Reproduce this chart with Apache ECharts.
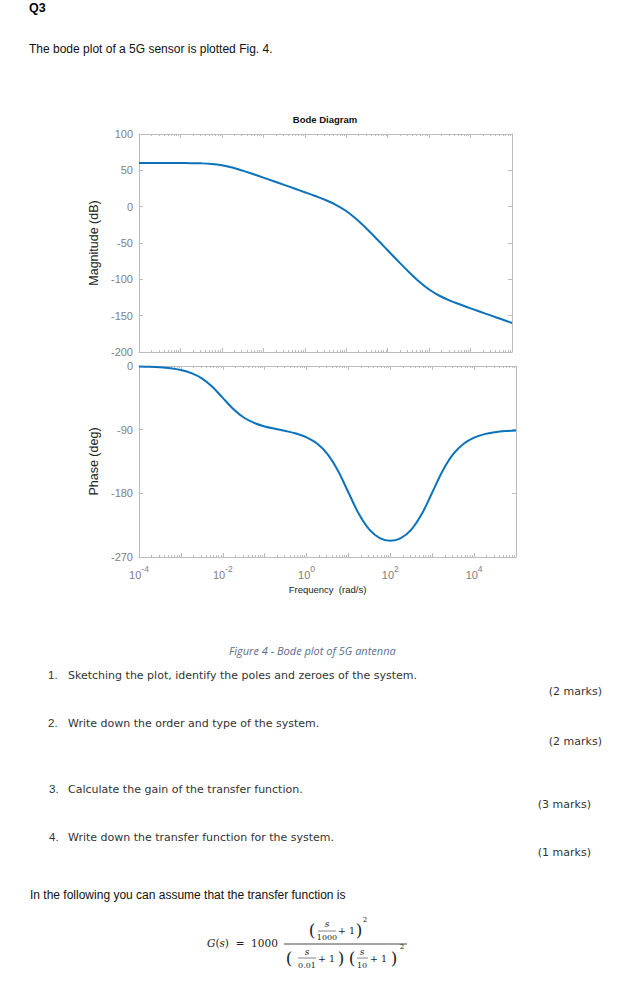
<!DOCTYPE html>
<html><head><meta charset="utf-8">
<script src="https://cdn.jsdelivr.net/npm/echarts@6/dist/echarts.min.js"></script>
<style>html,body{margin:0;padding:0;background:#fff;} #c{width:629px;height:987px;}</style>
</head><body><div id="c"></div>
<script>
// ---- data ----
const logFreq = [-4,-3.75,-3.5,-3.25,-3,-2.75,-2.5,-2.25,-2,-1.75,-1.5,-1.25,-1,-0.75,-0.5,-0.25,0,0.25,0.5,0.75,1,1.25,1.5,1.75,2,2.25,2.5,2.75,3,3.25,3.5,3.75,4,4.25,4.5,4.75,5];
const magnitudeDb = [60,60,60,60,60,59.9,59.6,58.8,57,53.8,49.6,44.9,40,35,30,25,19.9,14.7,9.2,2.6,-6,-17.4,-30.8,-45.2,-60,-74.8,-89.2,-102.6,-114,-122.6,-129.2,-134.7,-140,-145,-150,-155,-160];
const phaseDeg = [-0.6,-1,-1.8,-3.2,-5.7,-10.1,-17.5,-29.4,-45.1,-60.8,-72.8,-80.5,-85.4,-88.8,-91.8,-95.4,-100.8,-109.6,-124.5,-148,-178.8,-209.3,-231.3,-243.4,-247.2,-243.4,-231.3,-209.3,-178.9,-148,-124.7,-110,-101.3,-96.3,-93.6,-92,-91.1];
const xLabelExps = [-4,-2,0,2,4];
const magTicks = {min:-200, max:100, interval:50};
const phaseTicks = {min:-270, max:0, interval:90};
const freqRange = {min:1e-4, max:1e5};

const freq = logFreq.map(e => Math.pow(10, e));
const magData = freq.map((f,i) => [f, magnitudeDb[i]]);
const phaseData = freq.map((f,i) => [f, phaseDeg[i]]);
const decadeTicks = []; for (let e=-4;e<=5;e++) decadeTicks.push(Math.pow(10,e));
const minorTicks = []; for (let e=-4;e<5;e++) for (let m=2;m<=9;m++) minorTicks.push(m*Math.pow(10,e));
const xLabelVals = xLabelExps.map(e => Math.pow(10,e));

const boxColor = '#bdbdbd';
const tickLabelColor = '#808080';
const lineColor = '#0b72bb';

function xAx(grid, pos, ticks, len, showLine, labels) {
  return {
    type:'log', logBase:10, gridIndex:grid, position:pos, min:freqRange.min, max:freqRange.max,
    axisLine:{show:showLine, onZero:false, lineStyle:{color:boxColor, width:1}},
    axisTick:{show:true, inside:true, length:len, customValues:ticks, lineStyle:{color:boxColor}},
    axisLabel: labels ? {
      show:true, customValues:xLabelVals, margin:7, color:tickLabelColor,
      formatter: v => '{b|10}{s|' + Math.round(Math.log10(v)) + '}',
      rich:{ b:{fontSize:11, fontFamily:'Liberation Sans, Arial', color:tickLabelColor, lineHeight:16, verticalAlign:'bottom'},
             s:{fontSize:8.5, fontFamily:'Liberation Sans, Arial', color:tickLabelColor, lineHeight:16, verticalAlign:'top'} }
    } : {show:false},
    splitLine:{show:false}, minorTick:{show:false}
  };
}
function yAx(grid, pos, t, name, labels) {
  return {
    type:'value', gridIndex:grid, position:pos, min:t.min, max:t.max, interval:t.interval,
    axisLine:{show:true, onZero:false, lineStyle:{color:boxColor, width:1}},
    axisTick:{show:true, inside:true, length:4, lineStyle:{color:boxColor}},
    axisLabel:{show:labels, margin:6, color:tickLabelColor, fontSize:11, fontFamily:'Liberation Sans, Arial'},
    splitLine:{show:false},
    name: name || '', nameLocation:'middle', nameRotate:90, nameGap:34,
    nameTextStyle:{fontSize:12.5, color:'#222', fontFamily:'Liberation Sans, Arial'}
  };
}

const xAxes = [
  xAx(0,'bottom',decadeTicks,4,true,false),
  xAx(0,'bottom',minorTicks,2,false,false),
  xAx(0,'top',decadeTicks,4,true,false),
  xAx(0,'top',minorTicks,2,false,false),
  Object.assign(xAx(1,'bottom',decadeTicks,4,true,true), {name:'Frequency  (rad/s)', nameLocation:'middle', nameGap:27, nameTextStyle:{fontSize:9.5, color:'#222', fontFamily:'Liberation Sans, Arial'}}),
  xAx(1,'bottom',minorTicks,2,false,false),
  xAx(1,'top',decadeTicks,4,true,false),
  xAx(1,'top',minorTicks,2,false,false)
];
const yAxes = [
  yAx(0,'left',magTicks,'Magnitude (dB)',true),
  yAx(0,'right',magTicks,'',false),
  yAx(1,'left',phaseTicks,'Phase (deg)',true),
  yAx(1,'right',phaseTicks,'',false)
];

const TF = 'Liberation Sans, Arial, sans-serif';
const QF = 'DejaVu Sans, Verdana, sans-serif';
const MF = 'DejaVu Serif, serif';
function txt(x,y,text,font,size,opts) {
  opts = opts || {};
  return {type:'text', x:x, y:y, silent:true, style:Object.assign({text:text, fontFamily:font, fontSize:size, fill:opts.fill||'#222', align:opts.align||'left', verticalAlign:'middle', fontWeight:opts.weight||'normal', fontStyle:opts.style||'normal'}, opts.extra||{})};
}
function hline(x1,x2,y,w) {
  return {type:'line', silent:true, shape:{x1:x1,y1:y,x2:x2,y2:y}, style:{stroke:'#333', lineWidth:w||0.8}};
}

const graphics = [
  txt(29,8,'Q3',TF,12.5,{weight:'bold',fill:'#000'}),
  txt(29,49,'The bode plot of a 5G sensor is plotted Fig. 4.',TF,12,{fill:'#111'}),
  txt(325,119,'Bode Diagram',TF,9.5,{weight:'bold',align:'center',fill:'#111'}),
  txt(229,650,'Figure 4 - Bode plot of 5G antenna','Open Sans, DejaVu Sans, sans-serif',11,{style:'italic',fill:'#5a7090'}),
  txt(48,675,'1.',TF,11.5,{fill:'#333'}),
  txt(68,675,'Sketching the plot, identify the poles and zeroes of the system.',QF,11,{fill:'#333'}),
  txt(602,691,'(2 marks)',QF,11,{align:'right',fill:'#333'}),
  txt(48,723,'2.',TF,11.5,{fill:'#333'}),
  txt(68,723,'Write down the order and type of the system.',QF,11,{fill:'#333'}),
  txt(602,741,'(2 marks)',QF,11,{align:'right',fill:'#333'}),
  txt(49,789,'3.',TF,11.5,{fill:'#333'}),
  txt(68,789,'Calculate the gain of the transfer function.',QF,11,{fill:'#333'}),
  txt(591,804,'(3 marks)',QF,11,{align:'right',fill:'#333'}),
  txt(49,837,'4.',TF,11.5,{fill:'#333'}),
  txt(68,837,'Write down the transfer function for the system.',QF,11,{fill:'#333'}),
  txt(591,852,'(1 marks)',QF,11,{align:'right',fill:'#333'}),
  txt(30,895,'In the following you can assume that the transfer function is',TF,12,{fill:'#111'}),
  // formula
  {type:'text', x:207, y:943, silent:true, style:{text:'{i|G}{n|(}{i|s}{n|)  =  1000}', verticalAlign:'middle', fill:'#222',
    rich:{i:{fontFamily:MF, fontSize:10.5, fontStyle:'italic', fill:'#222'}, n:{fontFamily:MF, fontSize:10.5, fill:'#222'}}}},
  hline(284,407,944,0.9),
  txt(312,930,'(',MF,17,{align:'center'}),
  txt(327,924,'s',MF,9,{align:'center',style:'italic'}),
  hline(318,336,931,0.6),
  txt(327,937.5,'1000',MF,8,{align:'center'}),
  txt(338,930,'+ 1',MF,9.5,{}),
  txt(359,930,')',MF,17,{align:'center'}),
  txt(365,920,'2',MF,7,{align:'center'}),
  txt(289,958,'(',MF,17,{align:'center'}),
  txt(307,952,'s',MF,9,{align:'center',style:'italic'}),
  hline(298,316,958,0.6),
  txt(307,965,'0.01',MF,8,{align:'center'}),
  txt(318,958,'+ 1',MF,9.5,{}),
  txt(341,958,')',MF,17,{align:'center'}),
  txt(352,958,'(',MF,17,{align:'center'}),
  txt(362,952,'s',MF,9,{align:'center',style:'italic'}),
  hline(357,368,958,0.6),
  txt(362,965,'10',MF,8,{align:'center'}),
  txt(370,958,'+ 1',MF,9.5,{}),
  txt(394,958,')',MF,17,{align:'center'}),
  txt(402,947,'2',MF,7,{align:'center'})
];

const chart = echarts.init(document.getElementById('c'), null, {renderer:'svg', width:629, height:987});
chart.setOption({
  animation:false,
  backgroundColor:'#fff',
  grid:[
    {left:139, top:134, width:373, height:218, containLabel:false, outerBoundsMode:'none'},
    {left:139, top:366, width:377, height:191, containLabel:false, outerBoundsMode:'none'}
  ],
  xAxis:xAxes,
  yAxis:yAxes,
  graphic:graphics,
  series:[
    {type:'line', name:'Magnitude', xAxisIndex:0, yAxisIndex:0, data:magData, smooth:0.35, showSymbol:false, lineStyle:{color:lineColor, width:2}},
    {type:'line', name:'Phase', xAxisIndex:4, yAxisIndex:2, data:phaseData, smooth:0.35, showSymbol:false, lineStyle:{color:lineColor, width:2}}
  ]
});
</script></body></html>
